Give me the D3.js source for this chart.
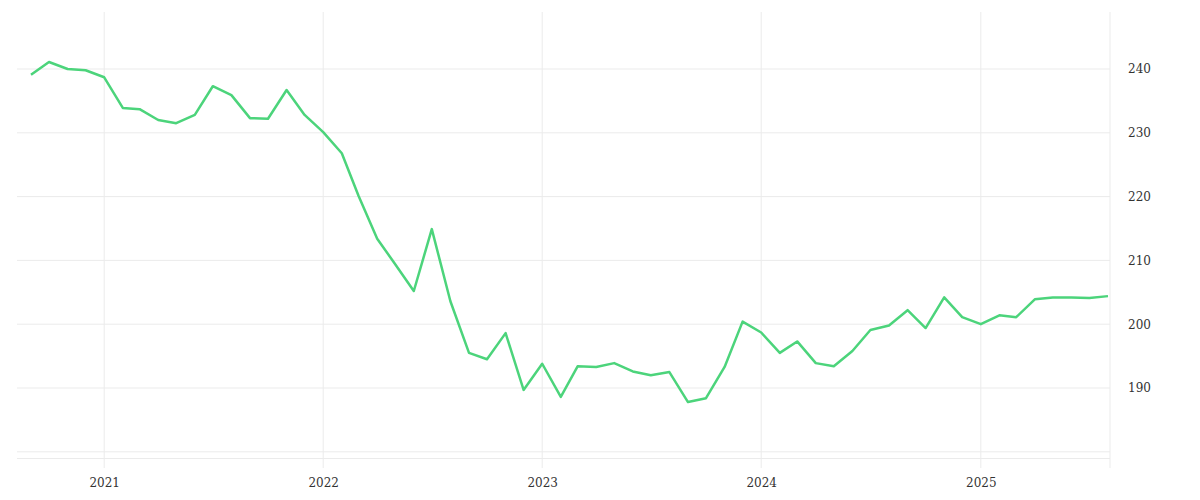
<!DOCTYPE html>
<html>
<head>
<meta charset="utf-8">
<script src="https://cdn.jsdelivr.net/npm/d3@7"></script>
<style>
  body { margin: 0; background: #fff; }
  text { font-family: "DejaVu Serif", serif; font-size: 12px; fill: #333; }
</style>
</head>
<body>
<svg id="chart" width="1200" height="500"></svg>
<script>
// monthly values, Sep 2020 .. Aug 2025
const startMonth = new Date(2020, 8, 1);
const values = [
  239.1, 241.1, 240.0, 239.8, 238.7, 233.9, 233.7, 232.0, 231.5, 232.8, 237.3, 235.9,
  232.3, 232.2, 236.7, 232.8, 230.1, 226.8, 220.1, 213.4, 209.4, 205.2, 214.9, 203.6,
  195.5, 194.5, 198.6, 189.7, 193.8, 188.6, 193.4, 193.3, 193.9, 192.6, 192.0, 192.5,
  187.8, 188.4, 193.3, 200.4, 198.7, 195.5, 197.3, 193.9, 193.4, 195.8, 199.1, 199.8,
  202.2, 199.4, 204.2, 201.1, 200.0, 201.4, 201.1, 203.9, 204.2, 204.2, 204.1, 204.4
];
const yTicks = [190, 200, 210, 220, 230, 240];
const xTicks = [2021, 2022, 2023, 2024, 2025];

const data = values.map((v, i) => ({
  date: new Date(startMonth.getFullYear(), startMonth.getMonth() + i, 1),
  value: v
}));

const svg = d3.select('#chart');
const plotLeft = 17, plotRight = 1110, plotTop = 12, plotBottom = 468;

const x = d3.scaleTime()
  .domain([data[0].date, data[data.length - 1].date])
  .range([31, 1108]);

const y = d3.scaleLinear()
  .domain([190, 240])
  .range([388, 69]);

// horizontal grid
svg.append('g')
  .selectAll('line')
  .data(yTicks.concat([180]))
  .join('line')
  .attr('x1', plotLeft).attr('x2', plotRight)
  .attr('y1', d => y(d)).attr('y2', d => y(d))
  .attr('stroke', '#ebebeb');

svg.append('line')
  .attr('x1', plotLeft).attr('x2', plotRight)
  .attr('y1', 458.5).attr('y2', 458.5)
  .attr('stroke', '#ebebeb');

// vertical grid
svg.append('g')
  .selectAll('line')
  .data(xTicks)
  .join('line')
  .attr('x1', d => x(new Date(d, 0, 1))).attr('x2', d => x(new Date(d, 0, 1)))
  .attr('y1', plotTop).attr('y2', plotBottom)
  .attr('stroke', '#ebebeb');

svg.append('line')
  .attr('x1', plotRight).attr('x2', plotRight)
  .attr('y1', plotTop).attr('y2', plotBottom)
  .attr('stroke', '#ebebeb');

// axes labels
const yAxis = d3.axisRight(y).tickValues(yTicks).tickSize(0).tickPadding(18);
svg.append('g')
  .attr('transform', `translate(${plotRight}, 0)`)
  .call(yAxis)
  .call(g => g.select('.domain').remove());

const xAxis = d3.axisBottom(x)
  .tickValues(xTicks.map(yr => new Date(yr, 0, 1)))
  .tickFormat(d3.timeFormat('%Y'))
  .tickSize(0).tickPadding(10);
svg.append('g')
  .attr('transform', `translate(0, ${plotBottom})`)
  .call(xAxis)
  .call(g => g.select('.domain').remove());

svg.selectAll('.tick text')
  .attr('fill', '#333')
  .style('font-family', '"DejaVu Serif", serif')
  .style('font-size', '12px');

// the line
svg.append('path')
  .datum(data)
  .attr('fill', 'none')
  .attr('stroke', '#4cd47b')
  .attr('stroke-width', 2.5)
  .attr('stroke-linejoin', 'round')
  .attr('d', d3.line().x(d => x(d.date)).y(d => y(d.value)));
</script>
</body>
</html>
